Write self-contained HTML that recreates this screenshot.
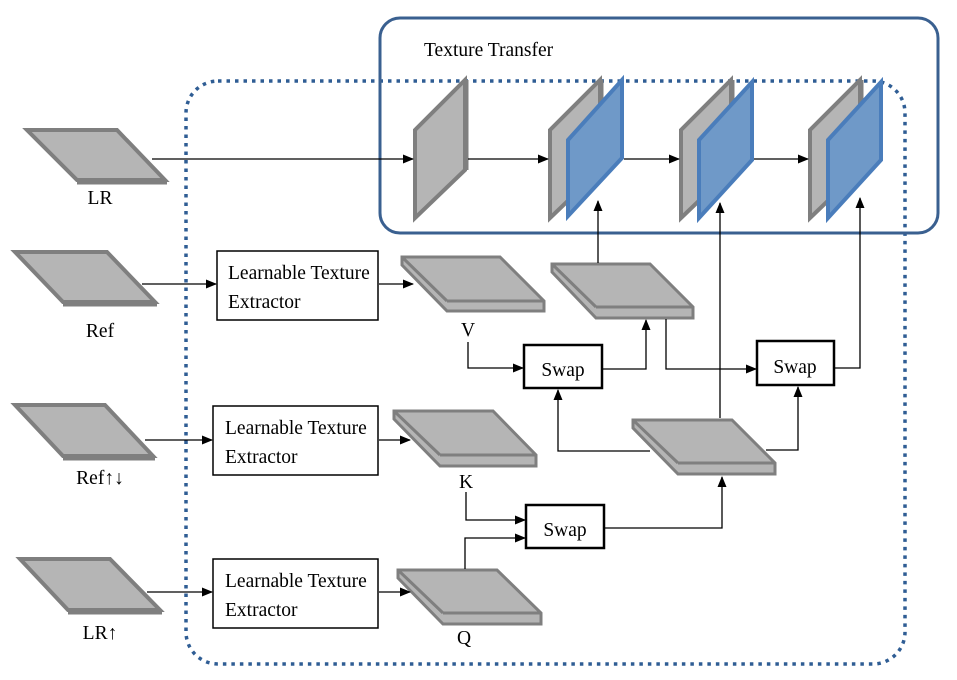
<!DOCTYPE html>
<html><head><meta charset="utf-8"><style>
html,body{margin:0;padding:0;background:#fff;}
svg{display:block;}
text{font-family:"Liberation Serif","DejaVu Serif",serif;fill:#000;}
</style></head><body>
<svg width="957" height="680" viewBox="0 0 957 680" xmlns="http://www.w3.org/2000/svg" font-family="Liberation Serif, DejaVu Serif, serif">
<defs>
<marker id="a" markerWidth="11" markerHeight="9" refX="10" refY="4.5" orient="auto" markerUnits="userSpaceOnUse">
<path d="M0,0 L11,4.5 L0,9 z" fill="#000"/></marker>
</defs>
<rect x="186" y="81" width="719" height="583" rx="32" fill="none" stroke="#2f5d94" stroke-width="3.5" stroke-dasharray="3.5,5"/>
<rect x="380" y="18" width="558" height="215" rx="20" fill="none" stroke="#3a6090" stroke-width="3"/>
<text x="424" y="56" font-size="19.5">Texture Transfer</text>

<g fill="#b5b5b5" stroke="#7f7f7f" stroke-width="4" stroke-linejoin="miter">
<polygon points="27,130 117,130 165,180 77,180"/>
<polygon points="15,252 107,252 155,302 63,302"/>
<polygon points="15,405 105,405 153,456 63,456"/>
<polygon points="20,559 110,559 160,610 68,610"/>
<polygon points="415,130 465,80 465,170 415,218"/>
<polygon points="550,130 600,80 600,170 550,218"/>
<polygon points="681,130 731,80 731,170 681,218"/>
<polygon points="810,130 860,80 860,170 810,218"/>
</g>
<g stroke="#7f7f7f" stroke-width="5" fill="none">
<path d="M77,182 L167,182"/>
<path d="M63,304 L157,304"/>
<path d="M63,458 L155,458"/>
<path d="M68,612 L162,612"/>
<path d="M466,80 L466,170 M601,80 L601,170 M732,80 L732,170 M861,80 L861,170"/>
</g>
<g fill="#6f99c8" stroke="#4a7dbb" stroke-width="4">
<polygon points="568,140 622,80 622,158 568,216"/>
<polygon points="699,140 752,82 752,160 699,218"/>
<polygon points="828,140 881,82 881,160 828,218"/>
</g>
<g fill="#b5b5b5" stroke="#7f7f7f" stroke-width="3">
<polygon points="402,257 500,257 544,301 544,311 447,311 402,265"/>
<polygon points="552,264 650,264 693,307 693,318 596,318 552,272"/>
<polygon points="394,411 493,411 536,455 536,466 440,466 394,419"/>
<polygon points="398,570 497,570 541,613 541,624 443,624 398,578"/>
<polygon points="633,420 732,420 775,463 775,474 678,474 633,428"/>
</g>
<g stroke="#7f7f7f" stroke-width="3" fill="none">
<path d="M447,301 L544,301 M402,257 L447,301"/>
<path d="M596,307 L693,307 M552,264 L596,307"/>
<path d="M440,455 L536,455 M394,411 L440,455"/>
<path d="M443,613 L541,613 M398,570 L443,613"/>
<path d="M678,463 L775,463 M633,420 L678,463"/>
</g>

<g fill="#fff" stroke="#000" stroke-width="1.5">
<rect x="217" y="251" width="161" height="69"/>
<rect x="213" y="406" width="165" height="69"/>
<rect x="213" y="559" width="165" height="69"/>
</g>
<g fill="#fff" stroke="#000" stroke-width="2.5">
<rect x="524" y="345" width="78" height="43"/>
<rect x="757" y="341" width="77" height="44"/>
<rect x="526" y="505" width="78" height="43"/>
</g>
<g font-size="19.5">
<text x="228" y="279">Learnable Texture</text><text x="228" y="308">Extractor</text>
<text x="225" y="434">Learnable Texture</text><text x="225" y="463">Extractor</text>
<text x="225" y="587">Learnable Texture</text><text x="225" y="616">Extractor</text>
<text x="563" y="376" text-anchor="middle">Swap</text>
<text x="795" y="373" text-anchor="middle">Swap</text>
<text x="565" y="536" text-anchor="middle">Swap</text>
<text x="100" y="204" text-anchor="middle">LR</text>
<text x="100" y="337" text-anchor="middle">Ref</text>
<text x="100" y="484" text-anchor="middle">Ref↑↓</text>
<text x="100" y="639" text-anchor="middle">LR↑</text>
<text x="468" y="336" text-anchor="middle">V</text>
<text x="466" y="488" text-anchor="middle">K</text>
<text x="464" y="644" text-anchor="middle">Q</text>
</g>

<g stroke="#000" stroke-width="1.3" fill="none" marker-end="url(#a)">
<path d="M152,159 L413,159"/>
<path d="M468,159 L548,159"/>
<path d="M624,159 L679,159"/>
<path d="M754,159 L808,159"/>
<path d="M142,284 L216,284"/>
<path d="M379,284 L413,284"/>
<path d="M145,440 L212,440"/>
<path d="M379,440 L410,440"/>
<path d="M147,592 L212,592"/>
<path d="M379,592 L410,592"/>
<path d="M468,342 L468,368 L523,368"/>
<path d="M602,369 L646,369 L646,320"/>
<path d="M598,263 L598,201"/>
<path d="M666,319 L666,369 L756,369"/>
<path d="M720,418 L720,203"/>
<path d="M650,451 L558,451 L558,390"/>
<path d="M766,450 L798,450 L798,387"/>
<path d="M834,368 L860,368 L860,198"/>
<path d="M466,492 L466,520 L525,520"/>
<path d="M465,569 L465,538 L525,538"/>
<path d="M604,528 L722,528 L722,477"/>
</g>
</svg>
</body></html>
